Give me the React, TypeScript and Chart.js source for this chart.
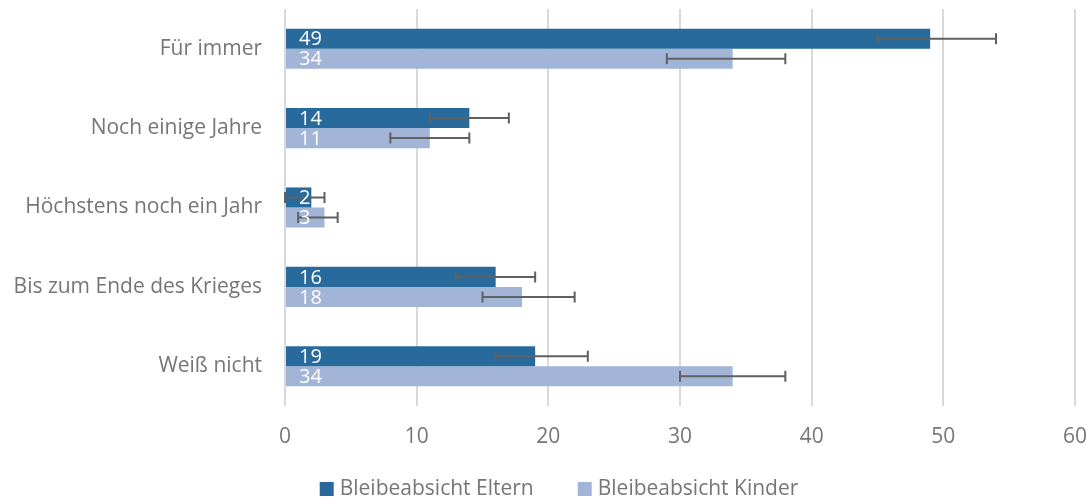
import React, { useEffect, useRef } from "react";
import { Chart, registerables } from "chart.js";

Chart.register(...registerables);

const categories = [
  "Für immer",
  "Noch einige Jahre",
  "Höchstens noch ein Jahr",
  "Bis zum Ende des Krieges",
  "Weiß nicht",
];
const elternValues = [49, 14, 2, 16, 19];
const kinderValues = [34, 11, 3, 18, 34];
const elternLow = [45, 11, 0, 13, 16];
const elternHigh = [54, 17, 3, 19, 23];
const kinderLow = [29, 8, 1, 15, 30];
const kinderHigh = [38, 14, 4, 22, 38];
const seriesLabels = ["Bleibeabsicht Eltern", "Bleibeabsicht Kinder"];
const xTicks = [0, 10, 20, 30, 40, 50, 60];

const FONT = "'Open Sans'";
const FONT_SIZE = 21;
const TEXT_COLOR = "#767676";
const COLORS = ["#286a9c", "#a3b5d6"];

const errorBarPlugin = {
  id: "errorBars",
  afterDatasetsDraw(chart: any) {
    const ctx = chart.ctx;
    const xs = chart.scales.x;
    const lows = [elternLow, kinderLow];
    const highs = [elternHigh, kinderHigh];
    chart.data.datasets.forEach((_: any, di: number) => {
      const meta = chart.getDatasetMeta(di);
      meta.data.forEach((bar: any, i: number) => {
        const y = bar.y;
        const x1 = xs.getPixelForValue(lows[di][i]);
        const x2 = xs.getPixelForValue(highs[di][i]);
        ctx.save();
        ctx.strokeStyle = "#606060";
        ctx.lineWidth = 2;
        ctx.beginPath();
        ctx.moveTo(x1, y);
        ctx.lineTo(x2, y);
        ctx.moveTo(x1, y - 5.5);
        ctx.lineTo(x1, y + 5.5);
        ctx.moveTo(x2, y - 5.5);
        ctx.lineTo(x2, y + 5.5);
        ctx.stroke();
        ctx.restore();
      });
    });
  },
};

const dataLabelPlugin = {
  id: "dataLabels",
  afterDatasetsDraw(chart: any) {
    const ctx = chart.ctx;
    chart.data.datasets.forEach((ds: any, di: number) => {
      const meta = chart.getDatasetMeta(di);
      meta.data.forEach((bar: any, i: number) => {
        ctx.save();
        ctx.fillStyle = "#ffffff";
        ctx.font = `20px ${FONT}`;
        ctx.textAlign = "left";
        ctx.textBaseline = "middle";
        ctx.fillText(String(ds.data[i]), bar.base + 13, bar.y + 1);
        ctx.restore();
      });
    });
  },
};

const legendPlugin = {
  id: "customLegend",
  afterDraw(chart: any) {
    const ctx = chart.ctx;
    ctx.save();
    ctx.font = `${FONT_SIZE}px ${FONT}`;
    const box = 14;
    const gapBox = 6;
    const gapItem = 44;
    const widths = chart.data.datasets.map((d: any) => ctx.measureText(d.label).width);
    const total = widths.reduce((a: number, w: number) => a + box + gapBox + w, 0) + gapItem * (widths.length - 1);
    let x = 559 - total / 2;
    const yc = 489;
    chart.data.datasets.forEach((d: any, i: number) => {
      ctx.fillStyle = d.backgroundColor;
      ctx.fillRect(x, yc - box / 2, box, box);
      x += box + gapBox;
      ctx.fillStyle = TEXT_COLOR;
      ctx.textAlign = "left";
      ctx.textBaseline = "middle";
      ctx.fillText(d.label, x, yc);
      x += widths[i] + gapItem;
    });
    ctx.restore();
  },
};

const zeroPad = (s: any) => {
  s.paddingTop = 0;
  s.paddingBottom = 0;
  s.paddingLeft = 0;
  s.paddingRight = 0;
};

export default function App() {
  const ref = useRef<HTMLCanvasElement>(null);
  useEffect(() => {
    if (!ref.current) return;
    const chart = new Chart(ref.current, {
      type: "bar",
      data: {
        labels: categories,
        datasets: [
          {
            label: seriesLabels[0],
            data: elternValues,
            backgroundColor: COLORS[0],
            categoryPercentage: 0.505,
            barPercentage: 1,
          },
          {
            label: seriesLabels[1],
            data: kinderValues,
            backgroundColor: COLORS[1],
            categoryPercentage: 0.505,
            barPercentage: 1,
          },
        ],
      },
      options: {
        indexAxis: "y",
        animation: false,
        responsive: false,
        events: [],
        layout: { padding: { top: 9, right: 15, bottom: 0, left: 0 } },
        plugins: {
          legend: { display: false },
          tooltip: { enabled: false },
          title: { display: false },
        },
        scales: {
          x: {
            min: 0,
            max: 60,
            afterBuildTicks: (s: any) => {
              s.ticks = xTicks.map((v) => ({ value: v }));
            },
            afterFit: (s: any) => {
              s.height = 98;
              zeroPad(s);
            },
            grid: { color: "#d9d9d9", lineWidth: 2, drawTicks: false },
            border: { display: false },
            ticks: {
              color: TEXT_COLOR,
              font: { family: FONT, size: FONT_SIZE },
              padding: 18,
            },
          },
          y: {
            afterFit: (s: any) => {
              s.width = 285;
              zeroPad(s);
            },
            grid: { display: false, drawTicks: false },
            border: { display: false },
            ticks: {
              color: TEXT_COLOR,
              font: { family: FONT, size: FONT_SIZE },
              padding: 23,
            },
          },
        },
      },
      plugins: [errorBarPlugin, dataLabelPlugin, legendPlugin],
    });
    return () => chart.destroy();
  }, []);
  return (
    <div style={{ position: "fixed", left: 0, top: 0, width: 1090, height: 504, background: "#fff" }}>
      <canvas ref={ref} width={1090} height={504} style={{ display: "block" }} />
    </div>
  );
}
